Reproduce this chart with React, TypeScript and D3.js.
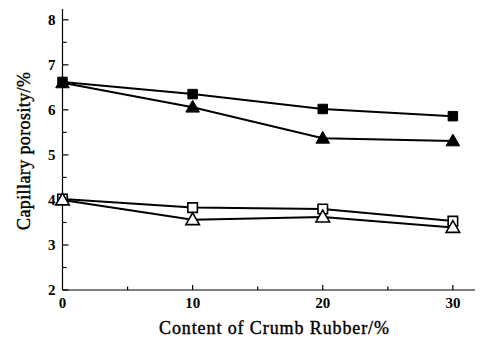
import React, { useEffect, useRef } from "react";
import * as d3 from "d3";

// Chart data
const rubberContent = [0, 10, 20, 30];
const filledSquare = [6.62, 6.35, 6.02, 5.86];
const filledTriangle = [6.6, 6.06, 5.37, 5.31];
const openSquare = [4.02, 3.83, 3.8, 3.53];
const openTriangle = [4.0, 3.56, 3.62, 3.39];
const xTickLabels = [0, 10, 20, 30];
const yTickLabels = [2, 3, 4, 5, 6, 7, 8];

const App = () => {
  const chartRef = useRef<SVGSVGElement | null>(null);

  useEffect(() => {
    const svg = d3.select(chartRef.current);
    svg.selectAll("*").remove();

    const width = 485;
    const height = 342;
    const font = "'Liberation Serif', 'Times New Roman', serif";

    // Scales (axes run a bit past the last tick, as in the figure)
    const x = d3.scaleLinear().domain([0, 31.7]).range([62.5, 475]);
    const y = d3.scaleLinear().domain([2, 8.24]).range([290, 9]);

    svg.attr("width", width).attr("height", height);

    const axes = svg.append("g").attr("stroke", "#000").attr("stroke-width", 1.2);

    // Axis lines
    axes.append("line")
      .attr("x1", x(0)).attr("x2", x(0))
      .attr("y1", y(2)).attr("y2", y(8.24));
    axes.append("line")
      .attr("x1", x(0)).attr("x2", x(31.7))
      .attr("y1", y(2)).attr("y2", y(2));

    // Y ticks pointing inward (major at integers, minor at halves)
    const yTicks = d3.range(2, 8.01, 0.5);
    axes.selectAll(".ytick")
      .data(yTicks)
      .join("line")
      .attr("x1", x(0))
      .attr("x2", (d) => x(0) + (Number.isInteger(d) ? 6 : 4))
      .attr("y1", (d) => y(d))
      .attr("y2", (d) => y(d));

    // X ticks pointing inward
    const xTicks = d3.range(5, 30.1, 5);
    axes.selectAll(".xtick")
      .data(xTicks)
      .join("line")
      .attr("x1", (d) => x(d))
      .attr("x2", (d) => x(d))
      .attr("y1", y(2))
      .attr("y2", (d) => y(2) - (d % 10 === 0 ? 5 : 3.5));

    // Tick labels
    svg.append("g")
      .selectAll("text")
      .data(yTickLabels)
      .join("text")
      .attr("x", x(0) - 7)
      .attr("y", (d) => y(d))
      .attr("dy", "0.34em")
      .attr("text-anchor", "end")
      .style("font-family", font)
      .style("font-weight", "bold")
      .style("font-size", "15px")
      .text((d) => d);

    svg.append("g")
      .selectAll("text")
      .data(xTickLabels)
      .join("text")
      .attr("x", (d) => x(d))
      .attr("y", 308)
      .attr("text-anchor", "middle")
      .style("font-family", font)
      .style("font-weight", "bold")
      .style("font-size", "15px")
      .text((d) => d);

    // Axis titles
    svg.append("text")
      .attr("x", 274)
      .attr("y", 334)
      .attr("text-anchor", "middle")
      .attr("textLength", 230)
      .attr("stroke", "#000")
      .attr("stroke-width", 0.4)
      .style("font-family", font)
      .style("font-size", "18px")
      .text("Content of Crumb Rubber/%");

    svg.append("text")
      .attr("transform", "translate(30, 151) rotate(-90)")
      .attr("text-anchor", "middle")
      .attr("textLength", 158)
      .attr("stroke", "#000")
      .attr("stroke-width", 0.4)
      .style("font-family", font)
      .style("font-size", "18px")
      .text("Capillary porosity/%");

    // Series
    const series = [
      { values: filledSquare, shape: "square", filled: true },
      { values: filledTriangle, shape: "triangle", filled: true },
      { values: openSquare, shape: "square", filled: false },
      { values: openTriangle, shape: "triangle", filled: false },
    ];

    const line = d3
      .line<number>()
      .x((_, i) => x(rubberContent[i]))
      .y((d) => y(d));

    series.forEach((s) => {
      svg.append("path")
        .datum(s.values)
        .attr("d", line)
        .attr("fill", "none")
        .attr("stroke", "#000")
        .attr("stroke-width", 2);
    });

    series.forEach((s) => {
      const sym = d3
        .symbol()
        .type(s.shape === "square" ? d3.symbolSquare : d3.symbolTriangle)
        .size(s.shape === "square" ? 90 : 80);
      svg.append("g")
        .selectAll("path")
        .data(s.values)
        .join("path")
        .attr("transform", (d, i) => `translate(${x(rubberContent[i])}, ${y(d) + (s.shape === "triangle" ? 1 : 0)})`)
        .attr("d", sym)
        .attr("fill", s.filled ? "#000" : "#fff")
        .attr("stroke", "#000")
        .attr("stroke-width", s.filled ? 1 : 1.6);
    });
  }, []);

  return (
    <svg
      ref={chartRef}
      style={{ position: "absolute", left: 0, top: 0, background: "#fff" }}
    />
  );
};

export default App;
